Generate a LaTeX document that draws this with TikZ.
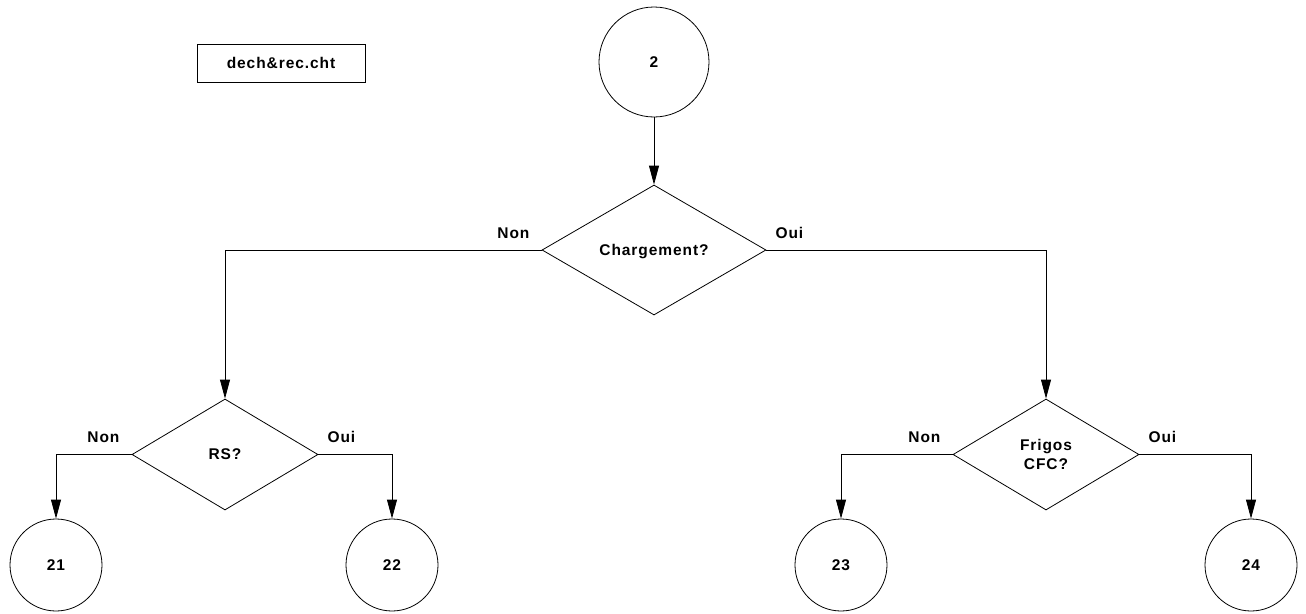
\documentclass[tikz,border=0pt]{standalone}
\usepackage{fontspec}
\setmainfont{Liberation Sans}[LetterSpace=6]
\usetikzlibrary{shapes.geometric,arrows.meta,calc}
\tikzset{
  every node/.style={font=\fontsize{15.5}{19}\selectfont\bfseries, text=black},
  conn/.style={circle, draw, line width=0.8pt, minimum size=110pt, inner sep=0pt},
  smallconn/.style={circle, draw, line width=0.8pt, minimum size=92pt, inner sep=0pt},
  decision/.style={diamond, draw, line width=0.8pt, inner sep=0pt, align=center, text depth=0pt},
  namebox/.style={rectangle, draw, line width=0.8pt, minimum width=168pt, minimum height=38pt, inner sep=0pt},
  arr/.style={line width=0.8pt, -{Triangle[length=19pt,width=10pt]}},
  lbl/.style={inner sep=0pt}
}
\begin{document}
\begin{tikzpicture}[x=1pt,y=-1pt]
\useasboundingbox (0,0) rectangle (1306,613);
\node[namebox] (file) at (281,63) {dech\&rec.cht};
\node[conn] (c2) at (654,62) {2};
\node[decision, minimum width=224pt, minimum height=130pt] (d1) at (654,250) {Chargement?};
\node[decision, minimum width=186pt, minimum height=111pt] (d2) at (225,454.5) {RS?};
\node[decision, minimum width=186pt, minimum height=111pt] (d3) at (1046,454.5) {Frigos\\CFC?};
\node[smallconn] (c21) at (56,565) {21};
\node[smallconn] (c22) at (392,565) {22};
\node[smallconn] (c23) at (841,565) {23};
\node[smallconn] (c24) at (1251,565) {24};

\draw[arr] (c2) -- (d1.north);
\draw[arr] (d1.west) -| (d2.north);
\draw[arr] (d1.east) -| (d3.north);
\draw[arr] (d2.west) -| (c21.north);
\draw[arr] (d2.east) -| (c22.north);
\draw[arr] (d3.west) -| (c23.north);
\draw[arr] (d3.east) -| (c24.north);

\node[lbl, anchor=base east] (n1) at ($(d1.west)+(-12,-12)$) {Non};
\node[lbl, anchor=base west] (o1) at ($(d1.east)+(9,-12)$) {Oui};
\node[lbl, anchor=base east] (n2) at ($(d2.west)+(-12,-12)$) {Non};
\node[lbl, anchor=base west] (o2) at ($(d2.east)+(9,-12)$) {Oui};
\node[lbl, anchor=base east] (n3) at ($(d3.west)+(-12,-12)$) {Non};
\node[lbl, anchor=base west] (o3) at ($(d3.east)+(9,-12)$) {Oui};
\end{tikzpicture}
\end{document}
